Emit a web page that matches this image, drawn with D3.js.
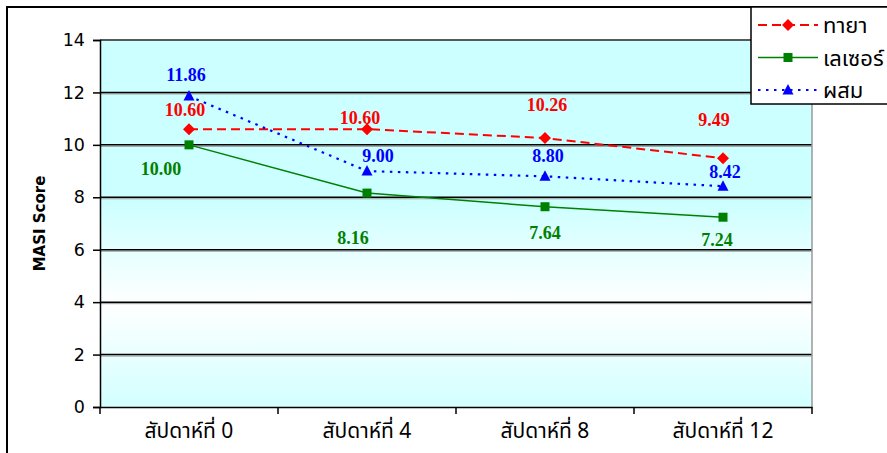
<!DOCTYPE html>
<html>
<head>
<meta charset="utf-8">
<script src="https://cdn.jsdelivr.net/npm/d3@7"></script>
<style>
  html, body { margin: 0; padding: 0; background: #fff; }
  svg { display: block; }
</style>
</head>
<body>
<svg id="chart" width="887" height="453"></svg>
<script>
// Weeks of treatment
const categories = ["สัปดาห์ที่ 0", "สัปดาห์ที่ 4", "สัปดาห์ที่ 8", "สัปดาห์ที่ 12"];
// MASI score per group
const seriesNames = ["ทายา", "เลเซอร์", "ผสม"];
const topicalValues = [10.60, 10.60, 10.26, 9.49];
const laserValues = [10.00, 8.16, 7.64, 7.24];
const combinedValues = [11.86, 9.00, 8.80, 8.42];
const yTicks = [0, 2, 4, 6, 8, 10, 12, 14];

// Per-point label nudges (dx, dy) relative to each marker
const labelNudge = [
  [[-4, -19], [-7, -11], [2, -33], [-9, -38]],
  [[-28, 24], [-14, 45], [0, 26], [-6, 23]],
  [[-3, -21], [11, -15], [3, -20], [2, -14]]
];

const styles = [
  { color: "#FF0000", dash: "9,5", width: 2, marker: "diamond" },
  { color: "#008000", dash: null, width: 1.5, marker: "square" },
  { color: "#0000FF", dash: "2.5,5.5", width: 2.2, marker: "triangle" }
];

const series = [topicalValues, laserValues, combinedValues].map((v, i) => ({
  name: seriesNames[i], values: v, style: styles[i], nudge: labelNudge[i]
}));

const sansFont = "Tahoma, 'DejaVu Sans', Verdana, sans-serif";
const thaiFont = "Tahoma, 'Noto Sans Thai', 'Noto Sans', 'DejaVu Sans', sans-serif";

const svg = d3.select("#chart");
const plot = { left: 100, top: 40, right: 812, bottom: 407 };

// Outer chart frame (runs off the right and bottom edges)
svg.append("rect")
  .attr("x", 7).attr("y", 7).attr("width", 900).attr("height", 470)
  .attr("fill", "none").attr("stroke", "#000").attr("stroke-width", 2);

const x = d3.scaleBand().domain(categories).range([plot.left, plot.right]).padding(0);
const y = d3.scaleLinear().domain([0, 14]).range([plot.bottom, plot.top]);

// Plot-area gradient fill
const defs = svg.append("defs");
const grad = defs.append("linearGradient").attr("id", "plotFill")
  .attr("x1", 0).attr("y1", 0).attr("x2", 0).attr("y2", 1);
[[0, "#CCFFFF"], [0.44, "#CCFFFF"], [0.72, "#FFFFFF"], [1, "#D2FFFF"]].forEach(([o, c]) =>
  grad.append("stop").attr("offset", o).attr("stop-color", c));

svg.append("rect")
  .attr("x", plot.left).attr("y", plot.top)
  .attr("width", plot.right - plot.left).attr("height", plot.bottom - plot.top)
  .attr("fill", "url(#plotFill)");

// Gridlines with a faint grey shadow underneath
const gridVals = yTicks.filter(t => t > 0 && t < 14);
svg.append("g").selectAll("line").data(gridVals).join("line")
  .attr("x1", plot.left).attr("x2", plot.right)
  .attr("y1", d => y(d) + 1.5).attr("y2", d => y(d) + 1.5)
  .attr("stroke", "#9a9a9a").attr("stroke-width", 1);
svg.append("g").selectAll("line").data(gridVals).join("line")
  .attr("x1", plot.left).attr("x2", plot.right)
  .attr("y1", d => y(d)).attr("y2", d => y(d))
  .attr("stroke", "#000").attr("stroke-width", 1.5);

// Plot area border (right in grey)
svg.append("path")
  .attr("d", `M${plot.left},${plot.top}H${plot.right}V${plot.bottom}`)
  .attr("fill", "none").attr("stroke", "#999").attr("stroke-width", 1.5);
svg.append("line")
  .attr("x1", plot.left).attr("x2", plot.right).attr("y1", y(14)).attr("y2", y(14))
  .attr("stroke", "#000").attr("stroke-width", 1);

// Y axis
const yAxis = svg.append("g").attr("transform", `translate(${plot.left},0)`)
  .call(d3.axisLeft(y).tickValues(yTicks).tickSize(7).tickPadding(8).tickFormat(d3.format("d")));
yAxis.select(".domain").attr("stroke", "#000").attr("stroke-width", 1.5);
yAxis.selectAll(".tick line").attr("stroke", "#000").attr("stroke-width", 1.5);
yAxis.selectAll("text").attr("font-family", sansFont)
  .attr("font-size", 17.5).attr("fill", "#000");

// X axis with ticks at category boundaries
const xAxis = svg.append("g").attr("transform", `translate(0,${plot.bottom})`)
  .call(d3.axisBottom(x).tickSize(0).tickPadding(16));
xAxis.select(".domain").attr("stroke", "#000").attr("stroke-width", 1.5);
xAxis.selectAll("text")
  .attr("font-family", thaiFont)
  .attr("font-size", 21).attr("fill", "#000");
const boundaries = categories.map(c => x(c)).concat([x(categories[categories.length - 1]) + x.bandwidth()]);
svg.append("g").selectAll("line").data(boundaries).join("line")
  .attr("x1", d => d).attr("x2", d => d)
  .attr("y1", plot.bottom).attr("y2", plot.bottom + 7)
  .attr("stroke", "#000").attr("stroke-width", 1.5);

// Y axis title
svg.append("text")
  .attr("transform", `translate(45,${(plot.top + plot.bottom) / 2}) rotate(-90)`)
  .attr("text-anchor", "middle")
  .attr("font-family", sansFont)
  .attr("font-weight", "bold").attr("font-size", 15)
  .text("MASI Score");

const cx = c => x(c) + x.bandwidth() / 2;

function drawMarker(g, kind, color, px, py) {
  if (kind === "diamond") {
    g.append("path").attr("d", `M${px},${py - 6}L${px + 6},${py}L${px},${py + 6}L${px - 6},${py}Z`).attr("fill", color);
  } else if (kind === "square") {
    g.append("rect").attr("x", px - 4.5).attr("y", py - 4.5).attr("width", 9).attr("height", 9).attr("fill", color);
  } else {
    g.append("path").attr("d", `M${px},${py - 6}L${px + 5.5},${py + 4.5}L${px - 5.5},${py + 4.5}Z`).attr("fill", color);
  }
}

const line = d3.line().x((d, i) => cx(categories[i])).y(d => y(d));

series.forEach(s => {
  const g = svg.append("g");
  g.append("path").datum(s.values)
    .attr("d", line).attr("fill", "none")
    .attr("stroke", s.style.color).attr("stroke-width", s.style.width)
    .attr("stroke-dasharray", s.style.dash);
  s.values.forEach((v, i) => drawMarker(g, s.style.marker, s.style.color, cx(categories[i]), y(v)));
});

// Value labels
series.forEach(s => {
  svg.append("g").selectAll("text").data(s.values).join("text")
    .attr("x", (d, i) => cx(categories[i]) + s.nudge[i][0])
    .attr("y", (d, i) => y(d) + s.nudge[i][1] + 6)
    .attr("text-anchor", "middle")
    .attr("font-family", "'Times New Roman', 'Liberation Serif', serif")
    .attr("font-weight", "bold").attr("font-size", 18)
    .attr("fill", s.style.color)
    .text(d => d.toFixed(2));
});

// Legend
const legend = svg.append("g");
legend.append("rect")
  .attr("x", 751).attr("y", 7).attr("width", 150).attr("height", 97)
  .attr("fill", "#fff").attr("stroke", "#000").attr("stroke-width", 1.5);
series.forEach((s, i) => {
  const ly = 25 + i * 32.5;
  legend.append("line")
    .attr("x1", 758).attr("x2", 818).attr("y1", ly).attr("y2", ly)
    .attr("stroke", s.style.color).attr("stroke-width", s.style.width)
    .attr("stroke-dasharray", s.style.dash);
  drawMarker(legend, s.style.marker, s.style.color, 788, ly);
  legend.append("text")
    .attr("x", 823).attr("y", ly + 8)
    .attr("font-family", thaiFont)
    .attr("font-size", 22).attr("fill", "#000")
    .text(s.name);
});
</script>
</body>
</html>
